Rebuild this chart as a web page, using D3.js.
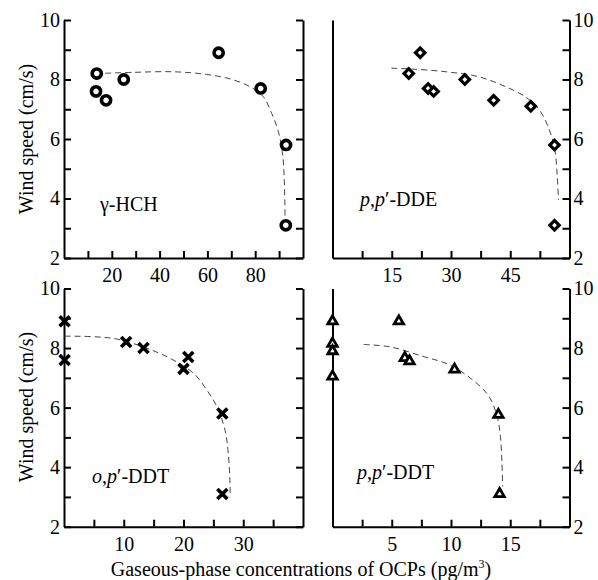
<!DOCTYPE html>
<html><head><meta charset="utf-8">
<script src="https://cdn.jsdelivr.net/npm/d3@7"></script>
<style>
body{margin:0;background:#fff;}
</style></head>
<body><svg id="c" width="598" height="580"></svg>
<script>
// ---- data ----
const hchX = [13.7, 13.4, 17.6, 25.0, 64.7, 82.3, 92.9, 92.8];
const hchY = [8.2, 7.6, 7.3, 8.0, 8.9, 7.7, 5.8, 3.1];
const hchFitX = [17.2, 29.0, 45.7, 59.7, 69.5, 77.8, 83.4, 86.9, 89.7, 91.5, 92.2, 92.5];
const hchFitY = [8.21, 8.24, 8.26, 8.17, 8.02, 7.76, 7.42, 6.86, 6.25, 5.46, 4.56, 3.33];

const ddeX = [19.3, 22.2, 24.2, 25.6, 33.5, 40.8, 50.2, 56.2, 56.2];
const ddeY = [8.2, 8.9, 7.7, 7.6, 8.0, 7.3, 7.1, 5.8, 3.1];
const ddeFitX = [14.9, 20.3, 28.7, 37.1, 43.8, 48.8, 52.1, 54.6, 56.3, 56.9, 57.2];
const ddeFitY = [8.38, 8.35, 8.26, 8.09, 7.76, 7.42, 7.03, 6.41, 5.63, 4.73, 3.95];

const opX = [0.1, 0.1, 10.4, 13.3, 20.8, 20.0, 26.5, 26.5];
const opY = [8.9, 7.6, 8.2, 8.0, 7.7, 7.3, 5.8, 3.1];
const opFitX = [0.1, 5.0, 8.9, 13.9, 17.8, 21.7, 23.9, 25.6, 26.95, 27.5, 27.8, 27.8];
const opFitY = [8.40, 8.38, 8.30, 7.99, 7.65, 7.15, 6.59, 6.03, 5.24, 4.46, 3.34, 3.12];

const ppX = [0, 0, 0, 0, 5.6, 6.1, 6.5, 10.3, 14.0, 14.1];
const ppY = [8.9, 8.15, 7.9, 7.05, 8.9, 7.67, 7.56, 7.28, 5.76, 3.1];
const ppFitX = [2.63, 4.86, 7.63, 9.86, 11.8, 13.2, 13.9, 14.17, 14.3, 14.36];
const ppFitY = [8.12, 8.04, 7.72, 7.44, 6.94, 6.38, 5.70, 5.03, 4.13, 3.35];

const yTicks = [2, 3, 4, 5, 6, 7, 8, 9, 10];
const hchTicks = [10, 20, 30, 40, 50, 60, 70, 80, 90];
const ddeTicks = [7.5, 15, 22.5, 30, 37.5, 45, 52.5];
const opTicks = [5, 10, 15, 20, 25, 30, 35];
const ppTicks = [2.5, 5, 7.5, 10, 12.5, 15, 17.5];
const hchLabels = [20, 40, 60, 80];
const ddeLabels = [15, 30, 45];
const opLabels = [10, 20, 30];
const ppLabels = [5, 10, 15];
const xDomains = {hch: [0, 100], dde: [0, 60], op: [0, 40], pp: [0, 20]};
const yDomain = [2, 10];

const yTitle = "Wind speed (cm/s)";

// ---- drawing ----
const FONT = '"Liberation Serif","Times New Roman",serif';
const svg = d3.select("#c");
const FS = 20;

const crossType = {draw(ctx, size) {
  const r = Math.sqrt(size) / 2;
  ctx.moveTo(-r, -r); ctx.lineTo(r, r);
  ctx.moveTo(r, -r); ctx.lineTo(-r, r);
}};

function panel(opt) {
  const x = d3.scaleLinear().domain(opt.xd).range([opt.x0, opt.x1]);
  const y = d3.scaleLinear().domain(yDomain).range([opt.y0, opt.y1]);
  const g = svg.append("g");

  g.append("g").attr("transform", `translate(0,${opt.y0})`)
    .call(d3.axisBottom(x).tickValues(opt.ticks).tickSize(-7).tickSizeOuter(0).tickPadding(10)
      .tickFormat(d => opt.labels.includes(d) ? d : ""));
  const la = g.append("g").attr("transform", `translate(${opt.x0},0)`);
  if (opt.leftSide) {
    la.call(d3.axisLeft(y).tickValues(yTicks).tickSize(-7).tickSizeOuter(0).tickPadding(4)
      .tickFormat(d => d % 2 === 0 ? d : ""));
  } else {
    la.call(d3.axisLeft(y).tickValues([]).tickSizeOuter(0));
  }
  g.append("g").attr("transform", `translate(${opt.x1},0)`)
    .call(d3.axisRight(y).tickValues(yTicks).tickSize(-7).tickSizeOuter(0).tickPadding(4)
      .tickFormat(d => (!opt.leftSide && d % 2 === 0) ? d : ""));

  g.selectAll("g").attr("font-family", FONT).attr("font-size", FS);
  g.selectAll(".domain, .tick line").attr("stroke", "#000").attr("stroke-width", 2);

  const fit = opt.fx.map((v, i) => [v, opt.fy[i]]);
  g.append("path").datum(fit)
    .attr("fill", "none").attr("stroke", "#444").attr("stroke-width", 1)
    .attr("stroke-dasharray", "6,4")
    .attr("d", d3.line().x(d => x(d[0])).y(d => y(d[1])).curve(d3.curveCatmullRom.alpha(0.5)));

  const pts = opt.px.map((v, i) => [v, opt.py[i]]);
  g.selectAll(".pt").data(pts).join("path")
    .attr("transform", d => `translate(${x(d[0])},${y(d[1])})${opt.rot ? " rotate(45)" : ""}`)
    .attr("d", d3.symbol().type(opt.sym).size(opt.size))
    .attr("fill", opt.sym === crossType ? "none" : "#fff")
    .attr("stroke", "#000").attr("stroke-width", opt.sw);

  const t = g.append("text").attr("x", opt.lx).attr("y", opt.ly).attr("font-size", 20).attr("font-family", FONT);
  opt.label(t);
}

function ital(t, parts) {
  parts.forEach(p => t.append("tspan").attr("font-style", p[1] ? "italic" : "normal").text(p[0]));
}

panel({xd: xDomains.hch, x0: 64, x1: 303, y0: 258, y1: 20, ticks: hchTicks, labels: hchLabels, leftSide: true,
  px: hchX, py: hchY, fx: hchFitX, fy: hchFitY, sym: d3.symbolCircle, size: Math.PI * 4.6 * 4.6, sw: 3.6,
  lx: 100, ly: 211, label: t => t.text("γ-HCH")});
panel({xd: xDomains.dde, x0: 332.5, x1: 569.5, y0: 258, y1: 20, ticks: ddeTicks, labels: ddeLabels, leftSide: false,
  px: ddeX, py: ddeY, fx: ddeFitX, fy: ddeFitY, sym: d3.symbolSquare, size: 44, rot: true, sw: 3.2,
  lx: 360, ly: 206, label: t => ital(t, [["p", 1], [",", 0], ["p", 1], ["′-DDE", 0]])});
panel({xd: xDomains.op, x0: 64, x1: 303, y0: 526.7, y1: 288.5, ticks: opTicks, labels: opLabels, leftSide: true,
  px: opX, py: opY, fx: opFitX, fy: opFitY, sym: crossType, size: 100, sw: 3.6,
  lx: 92, ly: 483, label: t => ital(t, [["o", 1], [",", 0], ["p", 1], ["′-DDT", 0]])});
panel({xd: xDomains.pp, x0: 332.5, x1: 569.5, y0: 526.7, y1: 288.5, ticks: ppTicks, labels: ppLabels, leftSide: false,
  px: ppX, py: ppY, fx: ppFitX, fy: ppFitY, sym: d3.symbolTriangle, size: 38, sw: 2.8,
  lx: 357, ly: 479, label: t => ital(t, [["p", 1], [",", 0], ["p", 1], ["′-DDT", 0]])});

[139, 407].forEach(cy => {
  svg.append("text").attr("transform", `translate(33,${cy}) rotate(-90)`)
    .attr("text-anchor", "middle").attr("font-size", FS).attr("font-family", FONT).text(yTitle);
});
const xt = svg.append("text").attr("x", 301).attr("y", 576).attr("text-anchor", "middle")
  .attr("font-size", FS).attr("font-family", FONT);
xt.append("tspan").text("Gaseous-phase concentrations of OCPs (pg/m");
xt.append("tspan").attr("font-size", 12).attr("dy", -8).text("3");
xt.append("tspan").attr("dy", 8).text(")");
</script></body></html>
